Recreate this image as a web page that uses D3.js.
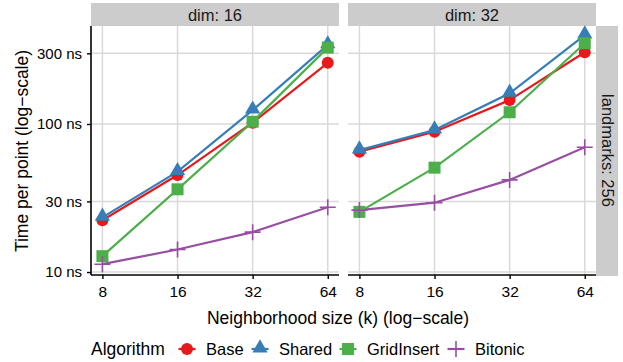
<!DOCTYPE html>
<html>
<head>
<meta charset="utf-8">
<script src="https://cdn.jsdelivr.net/npm/d3@7"></script>
<style>
  body { margin: 0; background: #fff; }
  text { font-family: "Liberation Sans", Arial, sans-serif; fill: #000; }
</style>
</head>
<body>
<svg id="chart" width="623" height="362"></svg>
<script>
// data
var kValues = [8, 16, 32, 64];
var dims = ["16", "32"];
var algorithms = ["Base", "Shared", "GridInsert", "Bitonic"];
var colors = ["#E41A1C", "#377EB8", "#4DAF4A", "#984EA3"];
var yTicks = [10, 30, 100, 300];

var dim16Base = [22.4, 45.2, 102, 259];
var dim16Shared = [23.4, 47.6, 124, 342];
var dim16GridInsert = [12.8, 36.2, 103.6, 328];
var dim16Bitonic = [11.3, 14.2, 18.6, 27.4];

var dim32Base = [65, 88.7, 145, 305];
var dim32Shared = [66.6, 91, 161, 399];
var dim32GridInsert = [25.5, 50.7, 120, 351];
var dim32Bitonic = [26.2, 29.4, 41.9, 69.6];

var panelData = {
    "16": [dim16Base, dim16Shared, dim16GridInsert, dim16Bitonic],
    "32": [dim32Base, dim32Shared, dim32GridInsert, dim32Bitonic]
};

var svg = d3.select("#chart");
var panelTop = 26, panelBottom = 275;
var panelLefts = [91, 348];
var panelW = 248;

var y = d3.scaleLog().domain([9.55, 459]).range([panelBottom, panelTop]);

// marker drawing
function drawMarker(g, algo, cx, cy, color) {
    if (algo == "Base") {
        g.append("circle").attr("cx", cx).attr("cy", cy).attr("r", 6).attr("fill", color);
    } else if (algo == "Shared") {
        g.append("path").attr("d", d3.symbol().type(d3.symbolTriangle).size(100)())
            .attr("transform", "translate(" + cx + "," + (cy - 1) + ")").attr("fill", color);
    } else if (algo == "GridInsert") {
        g.append("rect").attr("x", cx - 6).attr("y", cy - 6).attr("width", 12).attr("height", 12).attr("fill", color);
    } else {
        g.append("path").attr("d", "M" + (cx - 8) + "," + cy + "H" + (cx + 8) + "M" + cx + "," + (cy - 8) + "V" + (cy + 8))
            .attr("stroke", color).attr("stroke-width", 1.6).attr("fill", "none");
    }
}

dims.forEach(function(dim, p) {
    var left = panelLefts[p];
    var x = d3.scaleLog().base(2).domain([7.2, 71]).range([left, left + panelW]);
    var g = svg.append("g");

    // strip
    g.append("rect").attr("x", left).attr("y", 3).attr("width", panelW).attr("height", 23).attr("fill", "#cccccc");
    g.append("text").attr("x", left + panelW / 2).attr("y", 20.5).attr("text-anchor", "middle")
        .style("font-size", "16.5px").style("fill", "#1a1a1a").text("dim: " + dim);

    // grid
    g.selectAll(".gx").data(kValues).enter().append("line")
        .attr("x1", function(d) { return x(d); }).attr("x2", function(d) { return x(d); })
        .attr("y1", panelTop).attr("y2", panelBottom).attr("stroke", "#d9d9d9").attr("stroke-width", 1.5);
    g.selectAll(".gy").data(yTicks).enter().append("line")
        .attr("x1", left).attr("x2", left + panelW)
        .attr("y1", function(d) { return y(d); }).attr("y2", function(d) { return y(d); })
        .attr("stroke", "#d9d9d9").attr("stroke-width", 1.5);

    // lines and markers
    var line = d3.line().x(function(d, i) { return x(kValues[i]); }).y(function(d) { return y(d); });
    panelData[dim].forEach(function(vals, a) {
        g.append("path").datum(vals).attr("d", line).attr("fill", "none")
            .attr("stroke", colors[a]).attr("stroke-width", 2.2);
    });
    panelData[dim].forEach(function(vals, a) {
        vals.forEach(function(v, i) {
            drawMarker(g, algorithms[a], x(kValues[i]), y(v), colors[a]);
        });
    });

    // x axis
    var xAxis = d3.axisBottom(x).tickValues(kValues).tickFormat(d3.format("d")).tickSize(4);
    var ax = g.append("g").attr("transform", "translate(0," + panelBottom + ")").call(xAxis);
    ax.select(".domain").attr("d", "M" + left + ",0H" + (left + panelW)).attr("stroke", "#000").attr("stroke-width", 1.6);
    ax.selectAll(".tick line").attr("stroke", "#000").attr("stroke-width", 1.4);
    ax.selectAll("text").attr("y", 22).attr("dy", null)
        .style("font-size", "15.5px").style("font-family", "Liberation Sans, Arial, sans-serif").attr("fill", "#000");

    if (p == 0) {
        var yAxis = d3.axisLeft(y).tickValues(yTicks).tickFormat(function(d) { return d + " ns"; }).tickSize(4).tickPadding(5);
        var ay = g.append("g").attr("transform", "translate(" + left + ",0)").call(yAxis);
        ay.select(".domain").attr("d", "M0," + panelTop + "V" + panelBottom).attr("stroke", "#000").attr("stroke-width", 1.6);
        ay.selectAll(".tick line").attr("stroke", "#000").attr("stroke-width", 1.4);
        ay.selectAll("text").style("font-size", "15px").style("font-family", "Liberation Sans, Arial, sans-serif").attr("fill", "#000");
    }
});

// right strip
svg.append("rect").attr("x", 596).attr("y", panelTop).attr("width", 22).attr("height", panelBottom - panelTop + 1).attr("fill", "#cccccc");
svg.append("text").attr("transform", "translate(601.5," + ((panelTop + panelBottom) / 2) + ") rotate(90)")
    .attr("text-anchor", "middle")
    .style("font-size", "16.5px").style("fill", "#1a1a1a").text("landmarks: 256");

// axis titles
svg.append("text").attr("x", 338).attr("y", 324).attr("text-anchor", "middle")
    .style("font-size", "17.5px").text("Neighborhood size (k) (log\u2212scale)");
svg.append("text").attr("transform", "translate(28,151) rotate(-90)").attr("text-anchor", "middle")
    .style("font-size", "17.5px").text("Time per point (log\u2212scale)");

// legend
var legend = svg.append("g");
legend.append("text").attr("x", 91).attr("y", 355).style("font-size", "17.5px").text("Algorithm");
var keyX = [187, 260, 348, 456];
algorithms.forEach(function(algo, a) {
    var cx = keyX[a], cy = 349;
    legend.append("line").attr("x1", cx - 8.5).attr("x2", cx + 8.5).attr("y1", cy).attr("y2", cy)
        .attr("stroke", colors[a]).attr("stroke-width", 2.2);
    drawMarker(legend, algo, cx, cy, colors[a]);
    legend.append("text").attr("x", cx + 19).attr("y", 354.5).style("font-size", "16.5px").text(algo);
});
</script>
</body>
</html>
